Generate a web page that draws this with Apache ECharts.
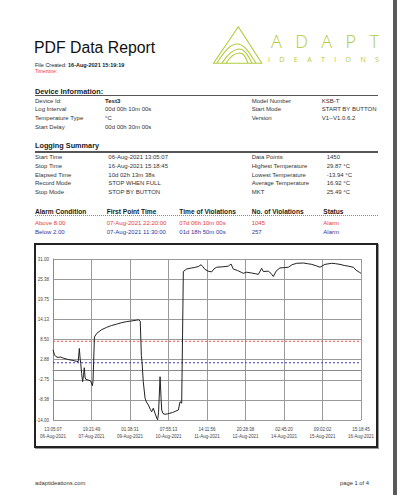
<!DOCTYPE html>
<html><head><meta charset="utf-8">
<script src="https://cdn.jsdelivr.net/npm/echarts@6/dist/echarts.min.js"></script>
<style>
html,body{margin:0;padding:0;background:#fff;}
body{width:406px;height:495px;position:relative;overflow:hidden;font-family:"Liberation Sans",Arial,sans-serif;color:#333;}
.t{position:absolute;white-space:nowrap;font-size:6px;line-height:8px;height:8px;}
.b{font-weight:bold;color:#222;}
.h{position:absolute;white-space:nowrap;font-weight:bold;color:#1a1a1a;font-size:7.3px;line-height:9px;}
.rule{position:absolute;left:35px;width:343px;height:1.5px;background:#555;}
.red{color:#e83a3a;}
.blue{color:#34349a;}
#box{position:absolute;left:34px;top:243px;width:344px;height:205px;border:2px solid #222;box-sizing:border-box;box-shadow:1px 1px 0 #999;}
#chart{position:absolute;left:0;top:0;width:406px;height:495px;}
#edge{position:absolute;left:393px;top:0;width:4px;height:495px;background:#5a5a5a;}
.logo1{position:absolute;left:271px;top:31px;width:108px;display:flex;justify-content:space-between;font-family:"Open Sans","DejaVu Sans",sans-serif;font-weight:300;font-size:18px;line-height:20px;color:#b0cb3c;}
.logo2{position:absolute;left:268px;top:56px;width:111px;display:flex;justify-content:space-between;font-family:"Open Sans","DejaVu Sans",sans-serif;font-size:7px;line-height:8px;color:#b0cb3c;}
</style></head>
<body>
<div id="edge"></div>
<div style="position:absolute;left:34px;top:39.5px;font-size:15.8px;line-height:16px;color:#111;white-space:nowrap;">PDF Data Report</div>
<div class="t" style="left:35px;top:61px;font-size:5.5px;color:#222;">File Created: <b>16-Aug-2021 15:19:19</b></div>
<div class="t red" style="left:35px;top:68px;font-size:4.8px;">Timezone:</div>

<svg style="position:absolute;left:0;top:0" width="406" height="100">
 <g fill="none" stroke="#b0cb3c" stroke-width="1.1">
  <path d="M213.5,63.3 L238.3,26.8 L261.8,63.3 Z"/>
  <path d="M217,63 C224,52 230,44 237,44 C245,44 250,54 256,63"/>
  <path d="M222,63 C228,54 233,49 239,49 C245,49 248,56 252,63"/>
  <path d="M226,63 C230,57 234,53 239.5,53 C244,53 246,58 248,63"/>
 </g>
</svg>
<div class="logo1"><span>A</span><span>D</span><span>A</span><span>P</span><span>T</span></div>
<div class="logo2"><span>I</span><span>D</span><span>E</span><span>A</span><span>T</span><span>I</span><span>O</span><span>N</span><span>S</span></div>

<div class="h" style="left:35px;top:86.5px;">Device Information:</div>
<div class="rule" style="top:94.5px;"></div>
<div class="t" style="left:35px;top:96.5px;">Device Id:</div>
<div class="t b" style="left:105px;top:96.5px;">Test3</div>
<div class="t" style="left:251.7px;top:96.5px;">Model Number</div>
<div class="t" style="left:321.7px;top:96.5px;">KSB-T</div>
<div class="t" style="left:35px;top:105.2px;">Log Interval</div>
<div class="t" style="left:105px;top:105.2px;">00d 00h 10m 00s</div>
<div class="t" style="left:251.7px;top:105.2px;">Start Mode</div>
<div class="t" style="left:321.7px;top:105.2px;">START BY BUTTON</div>
<div class="t" style="left:35px;top:113.9px;">Temperature Type</div>
<div class="t" style="left:105px;top:113.9px;">°C</div>
<div class="t" style="left:251.7px;top:113.9px;">Version</div>
<div class="t" style="left:321.7px;top:113.9px;">V1--V1.0.6.2</div>
<div class="t" style="left:35px;top:122.6px;">Start Delay</div>
<div class="t" style="left:105px;top:122.6px;">00d 00h 30m 00s</div>

<div class="h" style="left:35px;top:141px;">Logging Summary</div>
<div class="rule" style="top:151px;"></div>
<div class="t" style="left:35px;top:152.7px;">Start Time</div>
<div class="t" style="left:108.3px;top:152.7px;">06-Aug-2021 13:05:07</div>
<div class="t" style="left:251.7px;top:152.7px;">Data Points</div>
<div class="t" style="left:326.7px;top:152.7px;">1450</div>
<div class="t" style="left:35px;top:161.6px;">Stop Time</div>
<div class="t" style="left:108.3px;top:161.6px;">16-Aug-2021 15:18:45</div>
<div class="t" style="left:251.7px;top:161.6px;">Highest Temperature</div>
<div class="t" style="left:326.7px;top:161.6px;">29.87 °C</div>
<div class="t" style="left:35px;top:170.5px;">Elapsed Time</div>
<div class="t" style="left:108.3px;top:170.5px;">10d 02h 13m 38s</div>
<div class="t" style="left:251.7px;top:170.5px;">Lowest Temperature</div>
<div class="t" style="left:326.7px;top:170.5px;">-13.94 °C</div>
<div class="t" style="left:35px;top:179.4px;">Record Mode</div>
<div class="t" style="left:108.3px;top:179.4px;">STOP WHEN FULL</div>
<div class="t" style="left:251.7px;top:179.4px;">Average Temperature</div>
<div class="t" style="left:326.7px;top:179.4px;">16.92 °C</div>
<div class="t" style="left:35px;top:188.3px;">Stop Mode</div>
<div class="t" style="left:108.3px;top:188.3px;">STOP BY BUTTON</div>
<div class="t" style="left:251.7px;top:188.3px;">MKT</div>
<div class="t" style="left:326.7px;top:188.3px;">25.49 °C</div>

<div class="h" style="left:35px;top:206.5px;font-size:6.6px;">Alarm Condition</div>
<div class="h" style="left:106.7px;top:206.5px;font-size:6.6px;">First Point Time</div>
<div class="h" style="left:179.3px;top:206.5px;font-size:6.6px;">Time of Violations</div>
<div class="h" style="left:251.7px;top:206.5px;font-size:6.6px;">No. of Violations</div>
<div class="h" style="left:323.3px;top:206.5px;font-size:6.6px;">Status</div>
<div style="position:absolute;left:35px;top:214.5px;width:343px;height:0;border-top:1px dotted #888;"></div>
<div class="t red" style="left:35px;top:218.7px;">Above 8.00</div>
<div class="t red" style="left:106.7px;top:218.7px;">07-Aug-2021 22:20:00</div>
<div class="t red" style="left:179.3px;top:218.7px;">07d 06h 10m 00s</div>
<div class="t red" style="left:251.7px;top:218.7px;">1045</div>
<div class="t red" style="left:323.3px;top:218.7px;">Alarm</div>
<div class="t blue" style="left:35px;top:227.7px;">Below 2.00</div>
<div class="t blue" style="left:106.7px;top:227.7px;">07-Aug-2021 11:30:00</div>
<div class="t blue" style="left:179.3px;top:227.7px;">01d 18h 50m 00s</div>
<div class="t blue" style="left:251.7px;top:227.7px;">257</div>
<div class="t blue" style="left:323.3px;top:227.7px;">Alarm</div>

<div id="box"></div>
<div id="chart"></div>

<div class="t" style="left:35px;top:479px;font-size:5.8px;">adaptideations.com</div>
<div class="t" style="left:340px;top:479px;font-size:5.8px;">page 1 of 4</div>

<script>
// Logging start / stop (UTC used only as a neutral clock)
const startTime = Date.UTC(2021, 7, 6, 13, 5, 7);
const stopTime = Date.UTC(2021, 7, 16, 15, 18, 45);
// Readings: hours since start, and temperature (°C)
const hoursSinceStart = [0,1.2,2.4,4,6,8,12,15,18.6,19.8,20.7,21.4,21.8,22.5,23.3,24.0,24.6,25.2,25.7,27.5,29.6,31.0,31.5,32.2,32.6,34.4,38,42.2,46,50.1,54,58,62,65.8,67.5,68.6,69.5,70.0,71.0,72.4,73.5,75.0,76.5,77.6,78.9,80.2,81.6,82.3,83.0,84.2,85.0,85.5,86.5,88.1,90,92.0,94,96.0,98.6,99.9,101.2,101.9,102.5,105.1,109.1,111,114.3,116.5,118,119.5,122,124.8,126.5,128.7,133,137.9,140.0,141.8,145,148,149.7,152.3,156,159,161.5,164.1,165.4,169.3,171.4,173.3,175.4,178.5,182,185.1,188,191.7,196.9,200,203.5,207,210,213.9,219.2,222,225.7,229,232.2,236.2,238.3,240.9,242.2];
const temperatures = [5.6,4.2,3.7,3.5,3.6,3.3,2.9,2.7,2.4,2.3,6.0,3.0,1.8,-1.0,-3.3,-1.5,0.6,-2.0,-2.6,-2.8,-3.1,-4.4,-3.0,5.0,9.2,10.2,11.2,11.9,12.4,12.8,13.2,13.5,13.7,13.9,14.0,13.6,4.0,2.3,-3.3,-7.9,-9.0,-9.8,-11.0,-11.7,-10.7,-12.1,-13.5,-13.94,-12.0,-1.9,-8.0,-11.2,-12.2,-12.4,-12.3,-12.1,-11.9,-11.6,-11.2,-8.9,-9.3,10,27.5,28.2,28.5,28.6,28.9,29.4,28.8,28.1,27.6,27.4,28.2,28.7,28.8,29.0,29.6,28.2,27.8,27.3,27.0,27.3,27.1,26.9,26.7,28.4,27.5,27.6,27.0,26.1,27.6,28.5,28.6,28.7,29.4,29.8,29.87,29.7,29.5,29.1,28.7,29.5,29.8,29.7,29.5,29.2,29.0,28.7,27.9,27.3,27.0];
// Alarm limits
const upperLimit = 8.0;
const lowerLimit = 2.0;
// Y axis ticks
const yMin = -14, yMax = 31, yStep = 5.625;
const monthNames = ['Jan','Feb','Mar','Apr','May','Jun','Jul','Aug','Sep','Oct','Nov','Dec'];

const seriesData = hoursSinceStart.map((h, i) => [startTime + h * 3600000, temperatures[i]]);
const p2 = n => String(n).padStart(2, '0');
function fmtTime(v) {
  const d = new Date(Math.floor(v / 1000) * 1000);
  return p2(d.getUTCHours()) + ':' + p2(d.getUTCMinutes()) + ':' + p2(d.getUTCSeconds()) + '\n' +
    p2(d.getUTCDate()) + '-' + monthNames[d.getUTCMonth()] + '-' + d.getUTCFullYear();
}
function limitSeries(value, color) {
  return {
    type: 'line', data: [[startTime, value], [stopTime, value]], showSymbol: false, symbol: 'none',
    silent: true, lineStyle: {color: color, width: 1, type: [2, 2]}, itemStyle: {color: color}, z: 1
  };
}
const chart = echarts.init(document.getElementById('chart'), null, {renderer: 'svg'});
chart.setOption({
  animation: false,
  grid: {left: 53, top: 259, width: 308, height: 161},
  xAxis: {
    type: 'value', min: startTime, max: stopTime, interval: (stopTime - startTime) / 8,
    axisLine: {show: true, lineStyle: {color: '#8a8a8a', width: 1}},
    axisTick: {show: false},
    splitLine: {show: true, lineStyle: {color: '#9a9a9a', width: 1}},
    axisLabel: {formatter: fmtTime, fontSize: 4.5, lineHeight: 7, color: '#444', margin: 6, showMinLabel: true, showMaxLabel: true, hideOverlap: false}
  },
  yAxis: {
    type: 'value', min: yMin, max: yMax, interval: yStep,
    axisLine: {show: true, lineStyle: {color: '#8a8a8a', width: 1}},
    axisTick: {show: false},
    splitLine: {show: true, lineStyle: {color: '#9a9a9a', width: 1}},
    axisLabel: {formatter: v => v.toFixed(2), fontSize: 4.5, color: '#444', margin: 4}
  },
  series: [
    limitSeries(upperLimit, '#ff4b4b'),
    limitSeries(lowerLimit, '#3a3ac8'),
    {
      type: 'line', data: seriesData, showSymbol: false, symbol: 'none', z: 3,
      lineStyle: {color: '#222', width: 1}, itemStyle: {color: '#222'}
    }
  ]
});
</script>
</body></html>
